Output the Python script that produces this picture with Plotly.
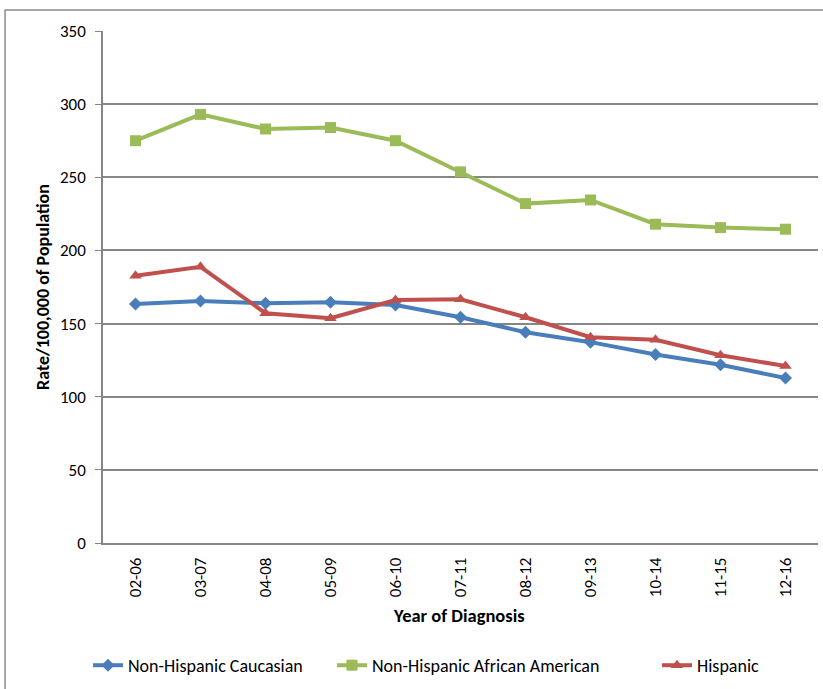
import plotly.graph_objects as go

years = ["02-06", "03-07", "04-08", "05-09", "06-10", "07-11", "08-12", "09-13", "10-14", "11-15", "12-16"]
caucasian = [163.4, 165.5, 163.9, 164.6, 162.7, 154.3, 144.1, 137.3, 128.9, 121.9, 112.8]
african_american = [275.0, 293.0, 283.0, 284.0, 275.0, 253.7, 232.0, 234.5, 217.9, 215.6, 214.5]
hispanic = [182.7, 188.8, 157.1, 153.7, 166.1, 166.6, 154.3, 140.7, 138.9, 128.3, 121.0]

font = "Carlito, Liberation Sans Narrow, Liberation Sans, sans-serif"
grid = "#868686"

fig = go.Figure()
fig.add_trace(go.Scatter(x=years, y=caucasian, name="Non-Hispanic Caucasian", mode="lines+markers",
                         line=dict(color="#4A7EBB", width=4), legend="legend",
                         marker=dict(symbol="diamond", size=10, color="#4A7EBB")))
fig.add_trace(go.Scatter(x=years, y=african_american, name="Non-Hispanic African American", mode="lines+markers",
                         line=dict(color="#9BBB59", width=4), legend="legend2",
                         marker=dict(symbol="square", size=11, color="#9BBB59")))
fig.add_trace(go.Scatter(x=years, y=hispanic, name="Hispanic", mode="lines+markers",
                         line=dict(color="#C0504D", width=4), legend="legend3",
                         marker=dict(symbol="triangle-up", size=11, color="#C0504D")))

leg = dict(orientation="h", y=-0.2393, xanchor="left", yanchor="middle", font=dict(size=18),
           bgcolor="rgba(0,0,0,0)")

fig.update_layout(
    width=823, height=689,
    margin=dict(l=103, r=5, t=31, b=144),
    plot_bgcolor="white", paper_bgcolor="white",
    font=dict(family=font, size=17, color="black"),
    showlegend=True,
    legend=dict(leg, x=(96 - 103 - 8) / 715),
    legend2=dict(leg, x=(340 - 103 - 8) / 715),
    legend3=dict(leg, x=(665 - 103 - 8) / 715),
    xaxis=dict(type="category", range=[-0.5, 10.5], tickangle=-90, showgrid=False,
               showline=True, linecolor=grid, linewidth=1.5, ticks="", tickfont=dict(size=17),
               ticklabelstandoff=6, automargin=False),
    yaxis=dict(range=[0, 350], dtick=50, showgrid=True, gridcolor=grid, gridwidth=1.5,
               showline=True, linecolor=grid, linewidth=1.5, ticks="outside", ticklen=6,
               tickcolor=grid, tickfont=dict(size=17), zeroline=False,
               ticklabelstandoff=6, automargin=False),
    annotations=[
        dict(text="<b>Year of Diagnosis</b>", xref="paper", yref="paper", x=0.498, y=-0.141,
             xanchor="center", yanchor="middle", showarrow=False, font=dict(size=18.5)),
        dict(text="<b>Rate/100,000 of Population</b>", xref="paper", yref="paper", x=-0.084, y=0.5,
             xanchor="center", yanchor="middle", textangle=-90, showarrow=False, font=dict(size=18)),
    ],
    shapes=[dict(type="rect", xref="paper", yref="paper", x0=-0.137, x1=1.03, y0=-0.3, y1=1.0409,
                 line=dict(color="#8C8C8C", width=1.5))],
)

fig.write_html("out.html", config={"displayModeBar": False},
               post_script="document.body.style.margin='0';document.body.style.overflow='hidden';")
